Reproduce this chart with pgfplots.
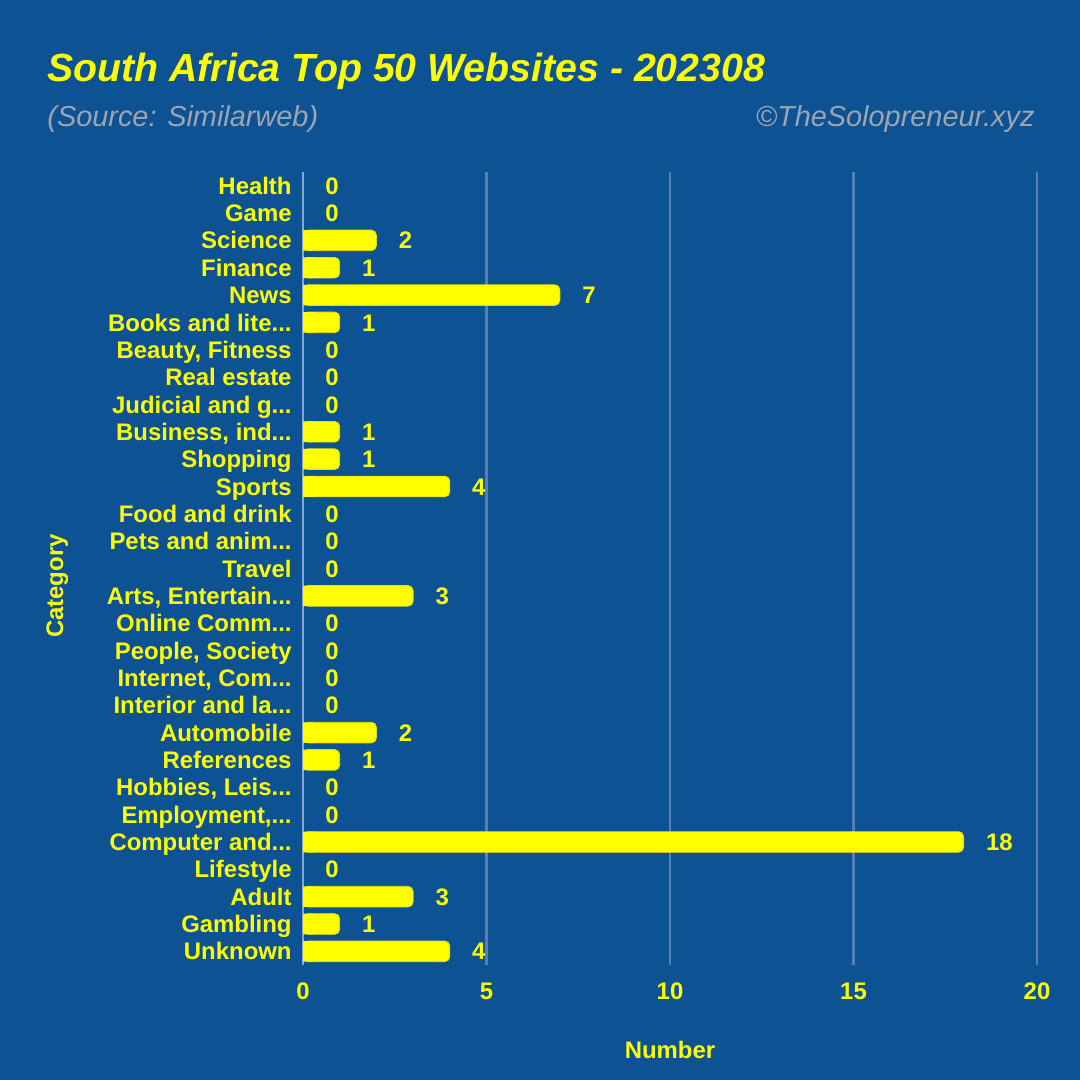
\documentclass[border=0pt]{standalone}
\usepackage{fontspec}
\setmainfont{Liberation Sans}
\usepackage{pgfplots}
\pgfplotsset{compat=1.18}
\definecolor{bg}{RGB}{13,82,147}
\definecolor{yel}{RGB}{255,255,0}
\definecolor{subc}{RGB}{158,165,178}
\definecolor{gridc}{RGB}{84,128,180}
\definecolor{axc}{RGB}{140,165,200}
\newcommand{\el}{...}
\begin{document}
\begin{tikzpicture}
\useasboundingbox (0,0) rectangle (540bp,540bp);
\fill[bg] (0,0) rectangle (540bp,540bp);
\node[anchor=base west, inner sep=0, text=yel, font=\fontsize{19.7}{22}\selectfont\bfseries\itshape] at (23.5bp,499bp) {South Africa Top 50 Websites - 202308};
\node[anchor=base west, inner sep=0, text=subc, font=\fontsize{14.5}{17}\selectfont\itshape] at (23.5bp,476.5bp) {(Source: Similarweb)};
\node[anchor=base east, inner sep=0, text=subc, font=\fontsize{14.5}{17}\selectfont\itshape] at (517.5bp,476.5bp) {\textcopyright TheSolopreneur.xyz};
\begin{axis}[
  at={(151.5bp,57.5bp)}, anchor=south west,
  scale only axis, width=367bp, height=396.5bp,
  xmin=0, xmax=20, ymin=-0.5, ymax=28.5, y dir=reverse,
  enlargelimits=false,
  axis line style={draw=none},
  major tick length=0,
  xtick={0,5,10,15,20},
  extra x ticks={0}, extra x tick labels={},
  extra x tick style={grid style={axc, line width=1.4bp}},
  xmajorgrids, grid style={gridc, line width=1.1bp},
  ytick={0,...,28},
  yticklabels={Health, Game, Science, Finance, News, Books and lite\el, {Beauty, Fitness}, Real estate, Judicial and g\el, {Business, ind\el}, Shopping, Sports, Food and drink, Pets and anim\el, Travel, {Arts, Entertain\el}, Online Comm\el, {People, Society}, {Internet, Com\el}, Interior and la\el, Automobile, References, {Hobbies, Leis\el}, {Employment,\el}, Computer and\el, Lifestyle, Adult, Gambling, Unknown},
  tick label style={text=yel, font=\fontsize{12}{13}\selectfont\bfseries, text height=8.6bp, text depth=0bp},
  yticklabel style={xshift=-2.2bp},
  xticklabel style={yshift=-5bp},
  /pgf/number format/assume math mode=true,
]
\addplot[xbar, bar width=10.3bp, fill=yel, draw=yel!88!black, line width=0.4bp, rounded corners=2.5bp] coordinates {
(2,2) (1,3) (7,4) (1,5) (1,9) (1,10) (4,11) (3,15) (2,20) (1,21) (18,24) (3,26) (1,27) (4,28)};
\addplot[xbar, bar width=10.3bp, fill=yel, draw=none] coordinates {
(0.3,2) (0.3,3) (0.3,4) (0.3,5) (0.3,9) (0.3,10) (0.3,11) (0.3,15) (0.3,20) (0.3,21) (0.3,24) (0.3,26) (0.3,27) (0.3,28)};
\addplot[draw=none, mark=none, point meta=x, nodes near coords,
  every node near coord/.append style={anchor=west, xshift=7.7bp, text=yel, font=\fontsize{12}{13}\selectfont\bfseries, text height=8.6bp, text depth=0bp}] coordinates {
(0,0) (0,1) (2,2) (1,3) (7,4) (1,5) (0,6) (0,7) (0,8) (1,9) (1,10) (4,11) (0,12) (0,13) (0,14) (3,15) (0,16) (0,17) (0,18) (0,19) (2,20) (1,21) (0,22) (0,23) (18,24) (0,25) (3,26) (1,27) (4,28)};
\end{axis}
\node[anchor=base, inner sep=0, text=yel, font=\fontsize{12}{13}\selectfont\bfseries] at (335bp,11bp) {Number};
\node[anchor=base, rotate=90, inner sep=0, text=yel, font=\fontsize{12}{13}\selectfont\bfseries] at (31.5bp,247bp) {Category};
\end{tikzpicture}
\end{document}
